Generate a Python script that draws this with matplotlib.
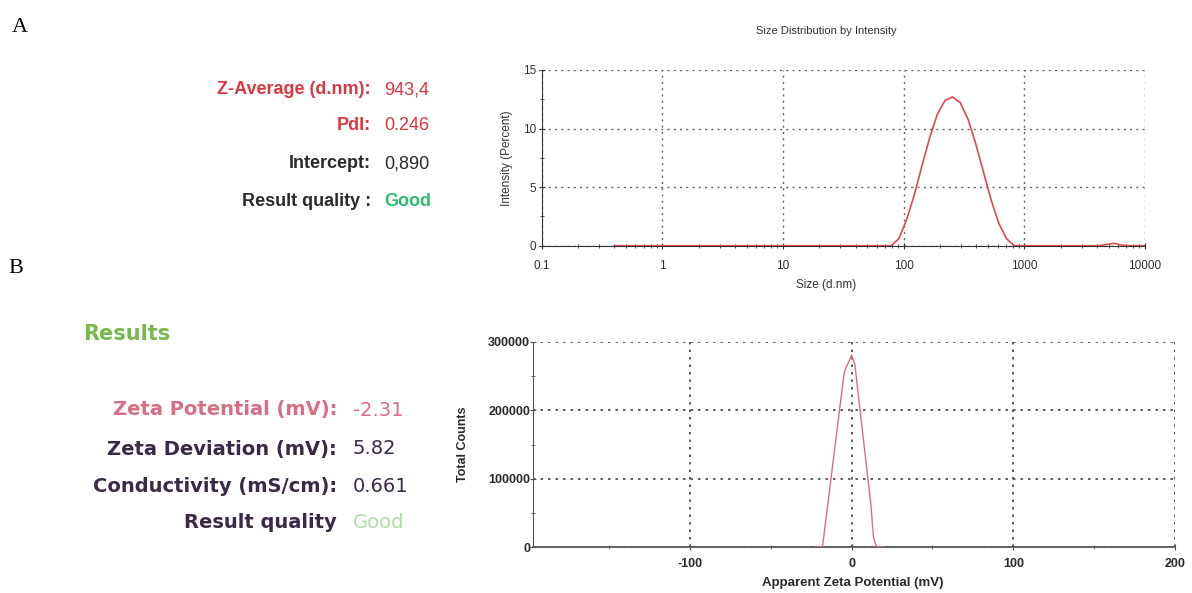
import matplotlib
matplotlib.use("Agg")
import matplotlib.pyplot as plt
from matplotlib.ticker import FixedLocator, NullFormatter, LogLocator

# ---------------- data ----------------
size_nm = [0.4, 0.4632, 0.5365, 0.6213, 0.7195, 0.8332, 0.9649, 1.117, 1.294, 1.499,
           1.736, 2.01, 2.328, 2.696, 3.122, 3.615, 4.187, 4.849, 5.615, 6.503,
           7.531, 8.721, 10.1, 11.7, 13.54, 15.69, 18.17, 21.04, 24.36, 28.21,
           32.67, 37.84, 43.82, 50.75, 58.77, 68.06, 78.82, 91.28, 105.7, 122.4,
           141.8, 164.2, 190.1, 220.2, 255.0, 295.3, 342.0, 396.1, 458.7, 531.2,
           615.1, 712.4, 825.0, 955.4, 1106, 1281, 1484, 1718, 1990, 2305,
           2669, 3091, 3580, 4145, 4801, 5560, 6439, 7456, 8635, 10000]
intensity_pct = [0, 0, 0, 0, 0, 0, 0, 0, 0, 0,
                 0, 0, 0, 0, 0, 0, 0, 0, 0, 0,
                 0, 0, 0, 0, 0, 0, 0, 0, 0, 0,
                 0, 0, 0, 0, 0, 0, 0, 0.6, 2.2, 4.3,
                 6.8, 9.2, 11.2, 12.4, 12.7, 12.2, 10.8, 8.7, 6.3, 3.9,
                 1.9, 0.6, 0, 0, 0, 0, 0, 0, 0, 0,
                 0, 0, 0, 0, 0.1, 0.2, 0.05, 0, 0, 0]

zeta_mv = [-22, -18, -15, -12, -9, -6, -4.5, -3, -1.5, 0, 2, 3, 6, 9, 12, 13.5, 15, 16, 20]
zeta_counts = [0, 0, 57000, 114000, 171000, 228000, 256000, 265000, 272000, 281000,
               268000, 247000, 185000, 123000, 61000, 15000, 3000, 0, 0]

size_xticks = [0.1, 1, 10, 100, 1000, 10000]
size_xticklabels = ["0.1", "1", "10", "100", "1000", "10000"]
size_yticks = [0, 5, 10, 15]
zeta_xticks = [-100, 0, 100, 200]
zeta_yticks = [0, 100000, 200000, 300000]

a_labels = ["Z-Average (d.nm):", "PdI:", "Intercept:", "Result quality :"]
a_values = ["943,4", "0.246", "0,890", "Good"]
b_labels = ["Zeta Potential (mV):", "Zeta Deviation (mV):", "Conductivity (mS/cm):", "Result quality"]
b_values = ["-2.31", "5.82", "0.661", "Good"]

SANS = "Liberation Sans"

fig = plt.figure(figsize=(11.92, 5.93), dpi=100)
W, H = 1192, 593


def fx(x):
    return x / W


def fy(y):
    return 1 - y / H


DOT = (0, (1.5, 3))

# ---------------- top chart ----------------
L1, R1, T1, B1 = 541.5, 1145, 70, 245.7
ax1 = fig.add_axes([fx(L1), fy(B1), fx(R1) - fx(L1), fy(T1) - fy(B1)])
ax1.set_xscale("log")
ax1.plot(size_nm, intensity_pct, color="#e04a4f", lw=1.2, zorder=3)
ax1.set_xlim(0.1, 10000)
ax1.set_ylim(0, 15)
ax1.set_xticks(size_xticks)
ax1.set_xticklabels(size_xticklabels)
ax1.xaxis.set_minor_locator(LogLocator(base=10, subs=range(2, 10)))
ax1.xaxis.set_minor_formatter(NullFormatter())
ax1.set_yticks(size_yticks)
ax1.yaxis.set_minor_locator(FixedLocator([2.5, 7.5, 12.5]))
ax1.grid(True, which="major", ls=DOT, color="#666666", lw=1.0)
for s in ["top", "right"]:
    ax1.spines[s].set_visible(False)
ax1.spines["left"].set_color("#333333")
ax1.spines["bottom"].set_color("#333333")
ax1.tick_params(which="major", direction="inout", length=4, color="#333333", labelsize=8.5,
                labelcolor="#333333")
ax1.tick_params(axis="x", which="major", pad=8)
ax1.tick_params(axis="y", which="major", pad=2)
ax1.tick_params(which="minor", direction="inout", length=3, color="#333333")
for lab in ax1.get_xticklabels() + ax1.get_yticklabels():
    lab.set_fontfamily(SANS)
ax1.text((826 - L1) / (R1 - L1), (B1 - 31) / (B1 - T1), "Size Distribution by Intensity",
         transform=ax1.transAxes, ha="center", va="center", fontsize=8, family=SANS, color="#333333")
ax1.set_xlabel("Size (d.nm)", fontsize=8.5, family=SANS, color="#333333", va="center")
ax1.xaxis.set_label_coords((826 - L1) / (R1 - L1), -(285 - B1) / (B1 - T1))
ax1.set_ylabel("Intensity (Percent)", fontsize=8.5, family=SANS, color="#333333", va="center")
ax1.yaxis.set_label_coords(-(L1 - 507) / (R1 - L1), 0.5)

# ---------------- bottom chart ----------------
L2, R2, T2, B2 = 533, 1175, 342, 547
ax2 = fig.add_axes([fx(L2), fy(B2), fx(R2) - fx(L2), fy(T2) - fy(B2)])
ax2.plot(zeta_mv, zeta_counts, color="#d9707c", lw=1.0, zorder=3)
ax2.set_xlim(-197, 200)
ax2.set_ylim(0, 300000)
ax2.set_xticks(zeta_xticks)
ax2.set_xticklabels([str(v) for v in zeta_xticks])
ax2.xaxis.set_minor_locator(FixedLocator([-150, -50, 50, 150]))
ax2.set_yticks(zeta_yticks)
ax2.set_yticklabels([str(v) for v in zeta_yticks])
ax2.yaxis.set_minor_locator(FixedLocator([50000, 150000, 250000]))
ax2.grid(True, which="major", ls=DOT, color="#444444", lw=1.2)
for s in ["top", "right"]:
    ax2.spines[s].set_visible(False)
ax2.spines["left"].set_color("#555555")
ax2.spines["bottom"].set_color("#555555")
ax2.spines["bottom"].set_linewidth(1.3)
ax2.tick_params(which="major", direction="inout", length=4, color="#555555", labelsize=9)
ax2.tick_params(axis="x", which="major", pad=6)
ax2.tick_params(axis="y", which="major", pad=0)
ax2.tick_params(which="minor", direction="inout", length=3, color="#555555")
for lab in ax2.get_xticklabels() + ax2.get_yticklabels():
    lab.set_fontfamily(SANS)
    lab.set_fontweight("bold")
    lab.set_color("#2a2a2a")
ax2.set_xlabel("Apparent Zeta Potential (mV)", fontsize=9.5, family=SANS, weight="bold",
               color="#2a2a2a", va="center")
ax2.xaxis.set_label_coords((853 - L2) / (R2 - L2), -(583 - B2) / (B2 - T2))
ax2.set_ylabel("Total Counts", fontsize=9, family=SANS, weight="bold", color="#2a2a2a", va="center")
ax2.yaxis.set_label_coords(-(L2 - 463) / (R2 - L2), 0.5)

# ---------------- panel letters ----------------
fig.text(fx(12), fy(28), "A", family="Liberation Serif", fontsize=16, va="center", ha="left")
fig.text(fx(8), fy(268), "B", family="Liberation Serif", fontsize=16, va="center", ha="left")

# ---------------- panel A texts ----------------
a_colors = ["#d8383e", "#d8383e", "#2b2b2b", "#2b2b2b"]
a_vcolors = ["#d8383e", "#d8383e", "#2b2b2b", "#2ebd6a"]
a_ys = [90, 126, 164, 201]
for lab, val, c, vc, y in zip(a_labels, a_values, a_colors, a_vcolors, a_ys):
    fig.text(fx(371), fy(y), lab, ha="right", va="center", family=SANS, weight="bold",
             fontsize=13, color=c)
    fig.text(fx(384), fy(y), val, ha="left", va="center", family=SANS,
             fontsize=13, color=vc, weight="bold" if val == "Good" else "normal")

# ---------------- panel B texts ----------------
fig.text(fx(83), fy(334), "Results", ha="left", va="center", family="DejaVu Sans", weight="bold",
         fontsize=15, color="#78b94c")
b_colors = ["#d96d84", "#3b2a47", "#3b2a47", "#3b2a47"]
b_vcolors = ["#d96d84", "#3b2a47", "#3b2a47", "#a9e0a2"]
b_ys = [410, 449, 487, 523]
for lab, val, c, vc, y in zip(b_labels, b_values, b_colors, b_vcolors, b_ys):
    fig.text(fx(337), fy(y), lab, ha="right", va="center", family="DejaVu Sans", weight="bold",
             fontsize=14, color=c)
    fig.text(fx(353), fy(y), val, ha="left", va="center", family="DejaVu Sans",
             fontsize=14, color=vc)

fig.savefig("out.png", dpi=100, facecolor="white")
